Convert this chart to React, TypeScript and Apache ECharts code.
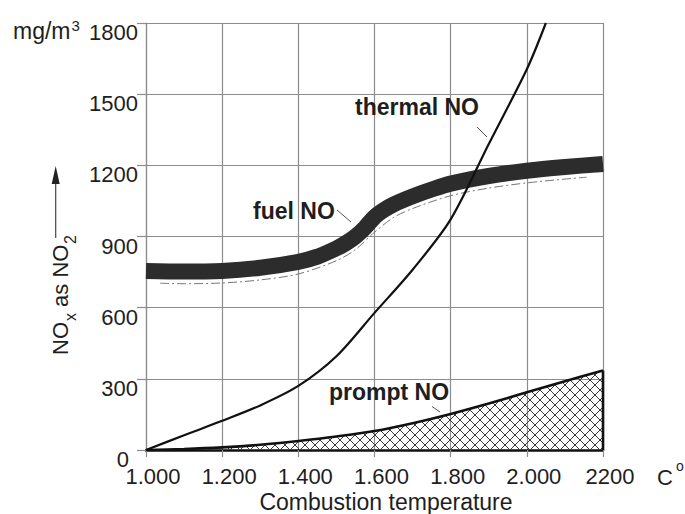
import React, { useEffect, useRef } from "react";
import * as echarts from "echarts";

// ---- data ----
const xTickLabels = ["1.000", "1.200", "1.400", "1.600", "1.800", "2.000", "2200"];
const yTickLabels = ["0", "300", "600", "900", "1200", "1500", "1800"];

const thermalTemps = [1000, 1100, 1200, 1300, 1400, 1500, 1600, 1700, 1800, 1900, 2000, 2050];
const thermalNO = [0, 62, 123, 188, 270, 395, 578, 760, 972, 1290, 1605, 1800];

const fuelTemps = [1000, 1100, 1200, 1300, 1400, 1450, 1500, 1525, 1550, 1575, 1600, 1625, 1650, 1700, 1750, 1800, 1900, 2000, 2100, 2200];
const fuelNO = [755, 752, 755, 768, 793, 815, 850, 872, 900, 937, 982, 1012, 1035, 1069, 1098, 1123, 1155, 1177, 1193, 1206];

const fuelLowTemps = [1037, 1100, 1200, 1300, 1400, 1500, 1550, 1600, 1650, 1700, 1800, 1900, 2000, 2100, 2157];
const fuelLow = [703, 701, 704, 717, 742, 798, 845, 918, 980, 1018, 1072, 1104, 1126, 1142, 1150];

const promptTemps = [1000, 1100, 1200, 1300, 1400, 1500, 1600, 1700, 1800, 1900, 2000, 2100, 2200];
const promptNO = [0, 4, 11, 22, 38, 57, 80, 113, 152, 196, 243, 290, 335];

const promptEdgeTemps = [2200, 2200];
const promptEdge = [0, 335];

const FONT = "'Liberation Sans', Arial, Helvetica, sans-serif";
const INK = "#1e1e1e";
const GRID = "#8c8c8c";

const pairs = (xs: number[], ys: number[]) => xs.map((x, i) => [x, ys[i]]);

export default function App() {
  const ref = useRef<HTMLDivElement>(null);

  useEffect(() => {
    if (!ref.current) return;
    const chart = echarts.init(ref.current, undefined, { renderer: "svg" });

    const cv = document.createElement("canvas");
    cv.width = 10;
    cv.height = 10;
    const ctx = cv.getContext("2d");
    if (ctx) {
      ctx.strokeStyle = "#3a3a3a";
      ctx.lineWidth = 1;
      ctx.beginPath();
      ctx.moveTo(-1, -1);
      ctx.lineTo(11, 11);
      ctx.moveTo(11, -1);
      ctx.lineTo(-1, 11);
      ctx.stroke();
    }

    const option: any = {
      animation: false,
      backgroundColor: "#ffffff",
      grid: { left: 146, right: 82, top: 23, bottom: 64, containLabel: false },
      xAxis: {
        type: "value",
        min: 1000,
        max: 2200,
        interval: 200,
        axisLine: { show: true, lineStyle: { color: "#111", width: 2.5 } },
        axisTick: { show: true, length: 7, lineStyle: { color: GRID, width: 1.2 } },
        splitLine: { show: true, lineStyle: { color: GRID, width: 1.2 } },
        axisLabel: {
          fontFamily: FONT,
          fontSize: 22,
          color: INK,
          margin: 15,
          padding: [0, 0, 0, 14],
          formatter: (v: number) => xTickLabels[Math.round((v - 1000) / 200)] ?? "",
        },
      },
      yAxis: {
        type: "value",
        min: 0,
        max: 1800,
        interval: 300,
        axisLine: { show: true, lineStyle: { color: GRID, width: 1.2 } },
        axisTick: { show: true, length: 9, lineStyle: { color: GRID, width: 1.2 } },
        splitLine: { show: true, lineStyle: { color: GRID, width: 1.2 } },
        axisLabel: {
          fontFamily: FONT,
          fontSize: 22,
          color: INK,
          margin: 8,
          verticalAlign: "top",
          lineHeight: 19,
          formatter: (v: number) => {
            const t = yTickLabels[Math.round(v / 300)] ?? "";
            return v === 0 ? "{z|" + t + "}" : t;
          },
          rich: {
            z: { fontFamily: FONT, fontSize: 22, color: INK, lineHeight: 19, padding: [0, 9, 0, 0] },
          },
        },
      },
      series: [
        {
          type: "line",
          name: "prompt NO",
          data: pairs(promptTemps, promptNO),
          smooth: 0.3,
          symbol: "none",
          z: 2,
          lineStyle: { color: "#111", width: 2.6 },
          areaStyle: {
            color: { image: cv, repeat: "repeat", imageWidth: 10, imageHeight: 10 },
            opacity: 1,
          },
        },
        {
          type: "line",
          name: "prompt edge",
          data: pairs(promptEdgeTemps, promptEdge),
          symbol: "none",
          z: 3,
          lineStyle: { color: "#111", width: 2.6 },
        },
        {
          type: "line",
          name: "fuel NO low",
          data: pairs(fuelLowTemps, fuelLow),
          smooth: 0.3,
          symbol: "none",
          z: 3,
          lineStyle: { color: "#777", width: 1, type: [9, 3, 2, 3] },
        },
        {
          type: "line",
          name: "fuel NO",
          data: pairs(fuelTemps, fuelNO),
          smooth: 0.3,
          symbol: "none",
          z: 4,
          lineStyle: { color: "#2c2c2c", width: 16, cap: "butt" },
        },
        {
          type: "line",
          name: "thermal NO",
          data: pairs(thermalTemps, thermalNO),
          smooth: 0.3,
          symbol: "none",
          z: 5,
          clip: true,
          lineStyle: { color: "#111", width: 2.2 },
        },
      ],
      graphic: [
        // unit label
        { type: "text", x: 13, y: 31, style: { text: "mg/m", fontFamily: FONT, fontSize: 23, fill: INK, align: "left", verticalAlign: "middle" } },
        { type: "text", x: 71.5, y: 25.5, style: { text: "3", fontFamily: FONT, fontSize: 15, fill: INK, align: "left", verticalAlign: "middle" } },
        // y title rotated
        {
          type: "group",
          x: 60,
          y: 355,
          rotation: Math.PI / 2,
          children: [
            { type: "text", x: 0, y: 0, style: { text: "NO", fontFamily: FONT, fontSize: 22, fill: INK, align: "left", verticalAlign: "middle" } },
            { type: "text", x: 34, y: 10, style: { text: "x", fontFamily: FONT, fontSize: 16, fill: INK, align: "left", verticalAlign: "middle" } },
            { type: "text", x: 42, y: 0, style: { text: " as NO", fontFamily: FONT, fontSize: 22, fill: INK, align: "left", verticalAlign: "middle" } },
            { type: "text", x: 111, y: 10, style: { text: "2", fontFamily: FONT, fontSize: 16, fill: INK, align: "left", verticalAlign: "middle" } },
          ],
        },
        // arrow
        { type: "line", shape: { x1: 55.7, y1: 238, x2: 55.7, y2: 182 }, style: { stroke: "#444", lineWidth: 1.2 } },
        { type: "polygon", shape: { points: [[55.7, 166], [51.7, 184], [59.7, 184]] }, style: { fill: "#222" } },
        // x title and unit
        { type: "text", x: 386, y: 502, style: { text: "Combustion temperature", fontFamily: FONT, fontSize: 23, fill: INK, align: "center", verticalAlign: "middle" } },
        { type: "text", x: 657, y: 477, style: { text: "C", fontFamily: FONT, fontSize: 22, fill: INK, align: "left", verticalAlign: "middle" } },
        { type: "text", x: 676, y: 466, style: { text: "o", fontFamily: FONT, fontSize: 14, fill: INK, align: "left", verticalAlign: "middle" } },
        // curve labels
        { type: "text", x: 355, y: 106.5, z: 10, style: { text: "thermal NO", fontFamily: FONT, fontSize: 23, fontWeight: "bold", fill: INK, align: "left", verticalAlign: "middle" } },
        { type: "line", z: 10, shape: { x1: 477, y1: 127, x2: 487, y2: 137 }, style: { stroke: "#555", lineWidth: 1 } },
        { type: "text", x: 253, y: 210.5, z: 10, style: { text: "fuel NO", fontFamily: FONT, fontSize: 23, fontWeight: "bold", fill: INK, align: "left", verticalAlign: "middle" } },
        { type: "line", z: 10, shape: { x1: 337, y1: 210, x2: 351, y2: 222 }, style: { stroke: "#555", lineWidth: 1 } },
        { type: "text", x: 329, y: 391.5, z: 10, style: { text: "prompt NO", fontFamily: FONT, fontSize: 23, fontWeight: "bold", fill: INK, align: "left", verticalAlign: "middle" } },
        { type: "line", z: 10, shape: { x1: 432, y1: 406.5, x2: 440, y2: 412 }, style: { stroke: "#555", lineWidth: 1 } },
      ],
    };

    chart.setOption(option);
    return () => chart.dispose();
  }, []);

  return (
    <div
      ref={ref}
      style={{ position: "absolute", left: 0, top: 0, width: 685, height: 514, background: "#fff" }}
    />
  );
}
